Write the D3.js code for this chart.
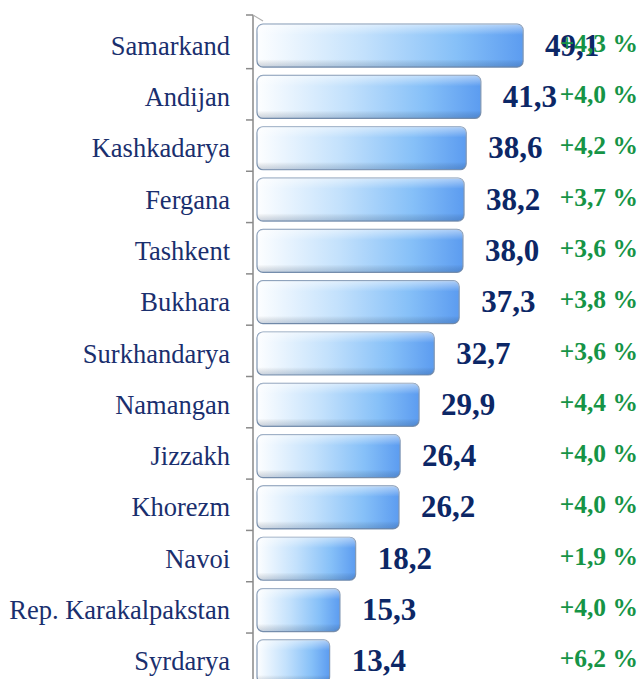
<!DOCTYPE html>
<html>
<head>
<meta charset="utf-8">
<script src="https://cdn.jsdelivr.net/npm/d3@7"></script>
<style>
  body { margin: 0; background: #fff; }
  svg { display: block; }
</style>
</head>
<body>
<svg width="643" height="679"></svg>
<script>
const regions = ["Samarkand", "Andijan", "Kashkadarya", "Fergana", "Tashkent", "Bukhara",
  "Surkhandarya", "Namangan", "Jizzakh", "Khorezm", "Navoi", "Rep. Karakalpakstan", "Syrdarya"];
const values = [49.1, 41.3, 38.6, 38.2, 38.0, 37.3, 32.7, 29.9, 26.4, 26.2, 18.2, 15.3, 13.4];
const growth = [4.3, 4.0, 4.2, 3.7, 3.6, 3.8, 3.6, 4.4, 4.0, 4.0, 1.9, 4.0, 6.2];

const svg = d3.select("svg");
const width = +svg.attr("width");
const height = +svg.attr("height");

const data = regions.map((r, i) => ({ region: r, value: values[i], growth: growth[i] }));

const axisX = 253;
const serif = "'Liberation Serif', 'Times New Roman', serif";

const x = d3.scaleLinear()
  .domain([0, 50])
  .range([257, 528]);

const y = d3.scaleBand()
  .domain(regions)
  .range([20, 687])
  .paddingInner(0.162)
  .paddingOuter(0.081);

const comma = v => d3.format(".1f")(v).replace(".", ",");

// gradients
const defs = svg.append("defs");
const grad = defs.append("linearGradient")
  .attr("id", "barGrad")
  .attr("x1", 0).attr("x2", 1).attr("y1", 0).attr("y2", 0);
grad.append("stop").attr("offset", "0%").attr("stop-color", "#fdfeff");
grad.append("stop").attr("offset", "40%").attr("stop-color", "#c3e1fc");
grad.append("stop").attr("offset", "75%").attr("stop-color", "#86c0f8");
grad.append("stop").attr("offset", "100%").attr("stop-color", "#5c9cf0");

const gloss = defs.append("linearGradient")
  .attr("id", "gloss")
  .attr("x1", 0).attr("x2", 0).attr("y1", 0).attr("y2", 1);
gloss.append("stop").attr("offset", "0%").attr("stop-color", "#fff").attr("stop-opacity", 0.5);
gloss.append("stop").attr("offset", "25%").attr("stop-color", "#fff").attr("stop-opacity", 0);
gloss.append("stop").attr("offset", "82%").attr("stop-color", "#000").attr("stop-opacity", 0);
gloss.append("stop").attr("offset", "100%").attr("stop-color", "#1a3a6a").attr("stop-opacity", 0.22);

// axis wall
const axisG = svg.append("g");
axisG.append("line")
  .attr("x1", axisX).attr("x2", axisX)
  .attr("y1", 15).attr("y2", height)
  .attr("stroke", "#a6a6a6")
  .attr("stroke-width", 2);
axisG.append("line")
  .attr("x1", axisX).attr("x2", axisX + 10)
  .attr("y1", 15).attr("y2", 21)
  .attr("stroke", "#b0b0b0")
  .attr("stroke-width", 1.2);

const tickYs = [15].concat(regions.slice(0, -1).map(r => y(r) + y.bandwidth() + 1.5));
axisG.selectAll("line.tick")
  .data(tickYs)
  .join("line")
  .attr("class", "tick")
  .attr("x1", axisX - 7).attr("x2", axisX)
  .attr("y1", d => d).attr("y2", d => d)
  .attr("stroke", "#8a8a8a")
  .attr("stroke-width", 1.5);

// bars
const bars = svg.append("g")
  .selectAll("g")
  .data(data)
  .join("g");

bars.append("rect")
  .attr("x", x(0))
  .attr("y", d => y(d.region))
  .attr("width", d => x(d.value) - x(0))
  .attr("height", y.bandwidth())
  .attr("rx", 6)
  .attr("fill", "url(#barGrad)")
  .attr("stroke", "#8097b4")
  .attr("stroke-width", 1.2);

bars.append("rect")
  .attr("x", x(0))
  .attr("y", d => y(d.region))
  .attr("width", d => x(d.value) - x(0))
  .attr("height", y.bandwidth())
  .attr("rx", 6)
  .attr("fill", "url(#gloss)");

// category labels
svg.append("g")
  .selectAll("text")
  .data(data)
  .join("text")
  .attr("x", 230)
  .attr("y", d => y(d.region) + y.bandwidth() / 2 + 9)
  .attr("text-anchor", "end")
  .attr("font-family", serif)
  .attr("font-size", 26.5)
  .attr("fill", "#1a2f6e")
  .text(d => d.region);

// value labels
svg.append("g")
  .selectAll("text")
  .data(data)
  .join("text")
  .attr("x", d => x(d.value) + 22)
  .attr("y", d => y(d.region) + y.bandwidth() / 2 + 10)
  .attr("font-family", serif)
  .attr("font-weight", "bold")
  .attr("font-size", 31)
  .attr("fill", "#0c2766")
  .text(d => comma(d.value));

// growth labels
svg.append("g")
  .selectAll("text")
  .data(data)
  .join("text")
  .attr("x", 638)
  .attr("y", d => y(d.region) + y.bandwidth() / 2 + 6)
  .attr("text-anchor", "end")
  .attr("font-family", serif)
  .attr("font-weight", "bold")
  .attr("font-size", 25.5)
  .attr("fill", "#169446")
  .text(d => "+" + comma(d.growth) + " %");
</script>
</body>
</html>
